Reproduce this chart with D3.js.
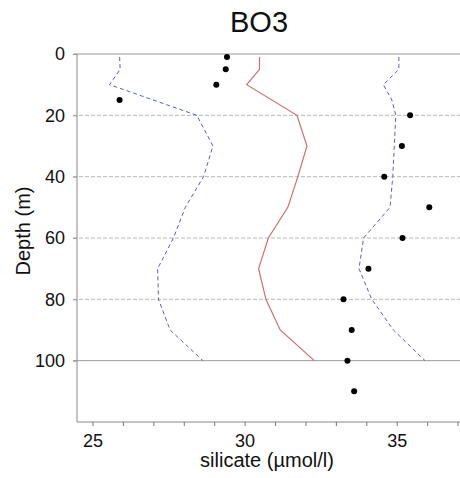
<!DOCTYPE html>
<html>
<head>
<meta charset="utf-8">
<script src="https://cdn.jsdelivr.net/npm/d3@7"></script>
<style>
  body { margin: 0; background: #fff; }
  text { font-family: Arial, "Liberation Sans", sans-serif; fill: #111; }
</style>
</head>
<body>
<div id="chart"></div>
<script>
const width = 460;
const height = 478;
const margin = { top: 54, right: 0, bottom: 56, left: 77 };

// mean profile (red) and +/- envelope (blue dashed)
const meanDepth = [1, 5, 10, 20, 30, 40, 50, 60, 70, 80, 90, 100];
const meanValue = [30.49, 30.49, 30.07, 31.72, 32.05, 31.75, 31.42, 30.78, 30.46, 30.70, 31.17, 32.29];

const lowDepth = [1, 5, 10, 20, 30, 40, 50, 60, 70, 80, 90, 100];
const lowValue = [25.89, 25.91, 25.56, 28.43, 28.96, 28.65, 28.05, 27.66, 27.14, 27.17, 27.55, 28.63];

const highDepth = [1, 5, 10, 15, 20, 30, 40, 50, 60, 70, 80, 90, 100];
const highValue = [35.07, 35.07, 34.56, 34.84, 34.97, 34.92, 34.87, 34.78, 33.91, 33.76, 34.18, 34.89, 35.93];

// observations (black dots)
const obsDepth = [1, 5, 10, 15, 20, 30, 40, 50, 60, 70, 80, 90, 100, 110];
const obsValue = [29.42, 29.38, 29.07, 25.89, 35.44, 35.17, 34.59, 36.07, 35.19, 34.07, 33.25, 33.52, 33.38, 33.60];

const gridDepths = [0, 20, 40, 60, 80, 100];
const xTickLabels = [25, 30, 35];

const svg = d3.select("#chart")
  .append("svg")
  .attr("width", width)
  .attr("height", height);

const x = d3.scaleLinear().domain([24.49, 37.08]).range([margin.left, width - margin.right]);
const y = d3.scaleLinear().domain([0, 120]).range([margin.top, height - margin.bottom]);

// grid lines
svg.append("g")
  .selectAll("line")
  .data(gridDepths)
  .join("line")
  .attr("x1", margin.left - 4)
  .attr("x2", width)
  .attr("y1", d => y(d))
  .attr("y2", d => y(d))
  .attr("stroke", d => (d === 0 || d === 100) ? "#9a9a9a" : "#b8b8b8")
  .attr("stroke-dasharray", d => (d === 0 || d === 100) ? null : "4,2");

// y axis
const yAxis = svg.append("g")
  .attr("transform", `translate(${margin.left},0)`)
  .call(d3.axisLeft(y).tickValues(gridDepths).tickSize(4).tickPadding(8));
yAxis.select(".domain").attr("stroke", "#888").attr("d", `M0,${y(0)}V${y(120)}`);
yAxis.selectAll(".tick line").attr("stroke", "#999");
yAxis.selectAll(".tick text").style("font-size", "18px").attr("fill", "#111");

// x axis
const xAxis = svg.append("g")
  .attr("transform", `translate(0,${y(120)})`)
  .call(d3.axisBottom(x).tickValues(d3.range(25, 38)).tickSize(4).tickPadding(8)
    .tickFormat(d => xTickLabels.includes(d) ? d : ""));
xAxis.select(".domain").attr("stroke", "#888").attr("d", `M${margin.left},0H${width}`);
xAxis.selectAll(".tick line").attr("stroke", "#777");
xAxis.selectAll(".tick text").style("font-size", "18px").attr("fill", "#111");

const line = d3.line().x(d => x(d[1])).y(d => y(d[0]));

svg.append("path")
  .datum(d3.zip(lowDepth, lowValue))
  .attr("d", line)
  .attr("fill", "none")
  .attr("stroke", "#5563a8")
  .attr("stroke-width", 1)
  .attr("stroke-dasharray", "4,3");

svg.append("path")
  .datum(d3.zip(highDepth, highValue))
  .attr("d", line)
  .attr("fill", "none")
  .attr("stroke", "#5563a8")
  .attr("stroke-width", 1)
  .attr("stroke-dasharray", "4,3");

svg.append("path")
  .datum(d3.zip(meanDepth, meanValue))
  .attr("d", line)
  .attr("fill", "none")
  .attr("stroke", "#cc7070")
  .attr("stroke-width", 1.2);

svg.append("g")
  .selectAll("circle")
  .data(d3.zip(obsDepth, obsValue))
  .join("circle")
  .attr("cx", d => x(d[1]))
  .attr("cy", d => y(d[0]))
  .attr("r", 3)
  .attr("fill", "#000");

// titles
svg.append("text")
  .attr("x", 259)
  .attr("y", 32)
  .attr("text-anchor", "middle")
  .style("font-size", "29px")
  .text("BO3");

svg.append("text")
  .attr("x", 267)
  .attr("y", 467)
  .attr("text-anchor", "middle")
  .style("font-size", "20px")
  .text("silicate (µmol/l)");

svg.append("text")
  .attr("transform", `translate(30,231) rotate(-90)`)
  .attr("text-anchor", "middle")
  .style("font-size", "20px")
  .text("Depth (m)");
</script>
</body>
</html>
